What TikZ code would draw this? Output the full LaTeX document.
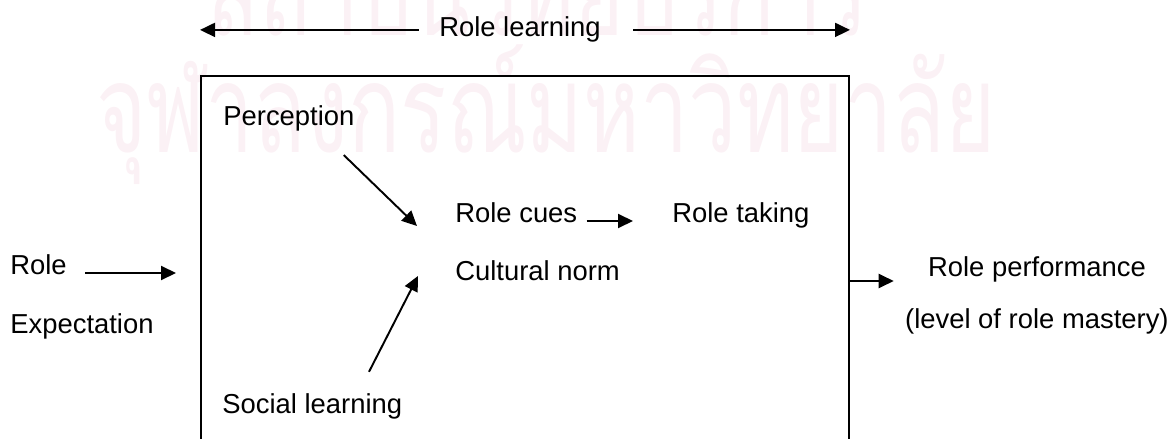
\documentclass[tikz,border=0pt]{standalone}
\usepackage{fontspec}
\setmainfont{Liberation Sans}
\newfontfamily\thaifont[Script=Thai]{Loma}
\usepackage{graphicx}
\usepackage{tikz}
\usetikzlibrary{arrows.meta,positioning}
\definecolor{rlwater}{RGB}{251,241,245}
\tikzstyle{arrow} = [line width=1.1pt,-{Triangle[length=0.3cm,width=0.28cm]}]
\tikzstyle{term} = [inner sep=0pt, anchor=base west, font=\fontsize{15.6}{18}\selectfont]
\tikzstyle{wmark} = [inner sep=0pt, anchor=base, text=rlwater, font=\thaifont\fontsize{70}{72}\selectfont]

\begin{document}
\begin{tikzpicture}[x=0.02cm, y=-0.02cm]
\useasboundingbox (0,0) rectangle (1172,439);
\clip (0,0) rectangle (1172,439);
% Watermark behind everything
\node (wmtop) [wmark] at (538,36) {\scalebox{0.69}[1]{สถาบันวิทยบริการ}};
\node (wmbottom) [wmark] at (546,152) {\scalebox{0.70}[1]{จุฬาลงกรณ์มหาวิทยาลัย}};

% Frame (runs off the bottom)
\node (frame) [draw, line width=1.2pt, minimum width=12.96cm, minimum height=7.88cm, inner sep=0pt] at (525,273) {};

% Role learning span
\node (rolelearn) [term, anchor=base] at (520,37) {Role learning};
\draw[arrow] ([xshift=-0.4cm]rolelearn.west) -- (rolelearn.west -| frame.west);
\draw[arrow] ([xshift=0.64cm]rolelearn.east) -- (rolelearn.east -| frame.east);

% Input
\node (role) [term] at (10,274) {Role};
\node (expect) [term] at (10,333) {Expectation};
\draw[arrow] ([shift={(18,-1)}]role.base east) -- ([xshift=-0.48cm]frame.west);

% Inside the frame
\node (percep) [term] at (223,125) {Perception};
\node (cues) [term] at (455,222) {Role cues};
\node (taking) [term] at (672,222) {Role taking};
\node (norm) [term] at (455,280) {Cultural norm};
\node (social) [term] at (222,413) {Social learning};
\draw[arrow] ([shift={(-11,24)}]percep.south east) -- ([shift={(-38,4)}]cues.base west);
\draw[arrow] ([shift={(147,-21)}]social.north west) -- ([shift={(-37,-4)}]norm.base west);
\draw[arrow] ([shift={(9,-1)}]cues.base east) -- ([shift={(-39,-1)}]taking.base west);

% Output
\node (perf) [term, anchor=base] at (1037,276) {Role performance};
\node (mastery) [term, anchor=base east] at (1169,328) {(level of role mastery)};
\draw[arrow] ([yshift=-0.16cm]frame.east) -- ([shift={(-34,5)}]perf.base west);
\end{tikzpicture}
\end{document}
